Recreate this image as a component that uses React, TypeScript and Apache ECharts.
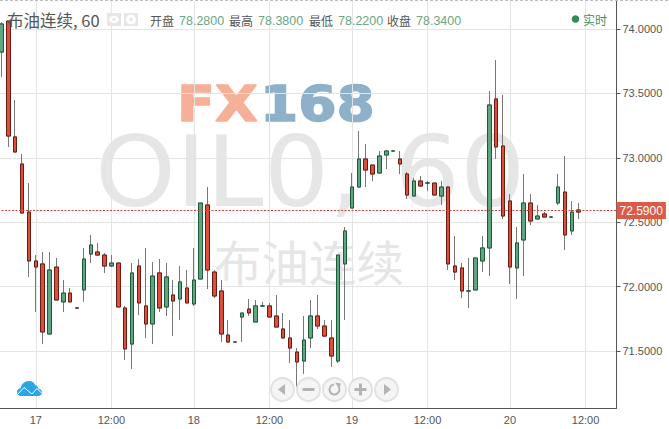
import React, { useEffect, useRef } from "react";
import * as echarts from "echarts";

const opens = [73.821,74.062,73.162,72.952,72.579,72.199,72.176,71.632,72.152,71.881,71.950,71.834,71.974,72.253,72.269,72.245,72.160,72.183,71.834,71.554,72.160,71.850,71.710,72.106,71.842,71.935,71.904,71.989,71.865,72.059,72.634,72.113,71.966,71.624,71.570,71.764,71.826,71.725,71.850,71.850,71.772,71.671,71.601,71.492,71.422,71.601,71.772,71.694,71.601,71.422,72.176,72.610,72.773,72.991,72.944,72.882,73.022,73.053,72.991,72.874,72.703,72.820,72.804,72.804,72.703,72.773,72.160,72.145,71.966,71.974,72.199,72.300,73.457,73.092,72.665,72.145,72.362,72.649,72.525,72.564,72.540,72.649,72.734,72.432,72.595];
const closes = [74.039,73.169,73.045,72.571,72.199,72.152,71.648,72.129,71.896,71.950,71.881,71.834,72.214,72.323,72.245,72.160,72.183,71.842,71.516,72.106,71.873,71.710,72.082,71.834,72.075,71.888,72.036,71.873,72.051,72.649,72.129,71.927,71.632,71.570,71.570,71.795,71.795,71.850,71.850,71.764,71.686,71.601,71.523,71.415,71.585,71.772,71.694,71.616,71.461,72.245,72.432,72.773,72.991,72.905,72.874,73.014,73.053,73.053,72.952,72.711,72.820,72.781,72.804,72.711,72.773,72.176,72.113,71.966,71.966,72.222,72.300,73.410,73.084,72.548,72.152,72.339,72.649,72.509,72.548,72.540,72.540,72.773,72.401,72.579,72.579];
const lows = [73.627,73.084,73.045,72.571,72.075,71.803,71.554,71.632,71.896,71.803,71.881,71.834,71.881,72.183,72.245,72.106,72.152,71.842,71.430,71.360,71.780,71.601,71.554,71.803,71.772,71.616,71.741,71.873,71.850,72.059,71.981,71.912,71.570,71.562,71.570,71.570,71.772,71.725,71.850,71.764,71.686,71.601,71.407,71.220,71.322,71.523,71.671,71.609,71.376,71.407,71.741,72.610,72.773,72.773,72.820,72.874,72.913,73.053,72.874,72.680,72.703,72.773,72.742,72.711,72.634,72.129,72.051,71.912,71.834,71.974,72.113,72.082,72.991,72.525,72.020,71.904,72.082,72.478,72.525,72.540,72.540,72.634,72.284,72.401,72.525];
const highs = [74.054,74.062,73.449,73.030,72.804,72.245,72.269,72.269,72.222,72.051,71.989,71.834,72.300,72.401,72.339,72.261,72.245,72.183,71.850,72.183,72.214,72.300,72.191,72.214,72.183,72.051,72.160,72.129,72.300,72.649,72.773,72.129,72.051,71.741,71.570,71.795,71.904,71.896,71.881,71.873,71.935,71.795,71.741,71.523,71.772,71.896,71.935,71.741,71.741,72.245,72.463,72.882,73.208,73.107,72.944,73.053,73.061,73.053,73.053,72.890,72.843,72.859,72.820,72.804,72.820,72.773,72.393,72.183,72.222,72.222,72.393,73.519,73.759,73.488,72.719,72.463,72.874,72.719,72.634,72.579,72.540,72.874,73.014,72.665,72.649];

const barCount = 90;
const timeTickIndexes = [5, 16, 28, 39, 51, 62, 74, 85];
const timeTickLabels = ["17", "12:00", "18", "12:00", "19", "12:00", "20", "12:00"];
const priceTicks = [71.5, 72, 72.5, 73, 73.5, 74];
const lastPrice = 72.59;
const categories = Array.from({ length: barCount }, (_, i) => {
  const at = timeTickIndexes.indexOf(i);
  return at >= 0 ? timeTickLabels[at] : "";
});

const headerItems = [
  ["开盘", "78.2800"],
  ["最高", "78.3800"],
  ["最低", "78.2200"],
  ["收盘", "78.3400"],
];

const RED = "#d9503f";
const RED_EDGE = "#6e1b14";
const GREEN = "#5fa57f";
const GREEN_EDGE = "#1c5a3a";
const WICK = "#777777";
const CJK = '"Noto Sans CJK SC", sans-serif';
const LATIN = '"Liberation Sans", Arial, sans-serif';

echarts.graphic.registerShape(
  "cloudLogo",
  echarts.graphic.extendPath(
    "M4 15.5 C1.5 15.5 0 13.8 0 11.5 C0 9.3 1.7 7.9 3.6 7.8 C4.6 3.4 7.8 0.5 12 0.5 C15.2 0.5 17.5 2.2 18.6 5.2 C19 5.1 19.4 5 19.8 5.4 C21 6.2 21.4 7.2 21.4 8.2 C23.6 8.4 25 9.8 25 11.8 C25 14 23.4 15.5 21.2 15.5 Z",
    {}
  ) as any
);

function text(x: number, y: number, t: string, font: string, size: number, fill: string, extra: any = {}) {
  return {
    type: "text",
    x,
    y,
    silent: true,
    z: extra.z ?? 10,
    scaleX: extra.scaleX ?? 1,
    style: {
      text: t,
      fontFamily: font,
      fontSize: size,
      fill,
      textVerticalAlign: "middle",
      fontWeight: extra.weight ?? "normal",
      stroke: extra.stroke,
      lineWidth: extra.stroke ? 1.5 : 0,
    },
  };
}

function buildGraphics() {
  const g: any[] = [];
  // top dashed edge
  g.push({ type: "line", silent: true, z: 10, shape: { x1: 0, y1: 0.5, x2: 669, y2: 0.5 }, style: { stroke: "#bdbdbd", lineWidth: 1, lineDash: [3, 2] } });
  // watermarks
  g.push(text(95, 172, "OIL0, 60", '"DejaVu Sans", sans-serif', 98, "#e6e6e6", { z: 0, scaleX: 1.05 }));
  g.push(text(214, 260, "布油连续", CJK, 47.5, "#e6e6e6", { z: 0 }));
  g.push(text(177, 103, "FX", '"DejaVu Sans", sans-serif', 50, "#f5b097", { z: 0, weight: "bold", scaleX: 1.11, stroke: "#f5b097" }));
  g.push(text(260, 103, "168", '"DejaVu Sans", sans-serif', 50, "#8fb0c9", { z: 0, weight: "bold", scaleX: 1.1, stroke: "#8fb0c9" }));
  // header
  g.push(text(7, 20, "布油连续, 60", CJK, 16.5, "#555555"));
  g.push({ type: "rect", silent: true, z: 10, shape: { x: 107, y: 13, width: 14, height: 13 }, style: { fill: "#e6e6e6" } });
  g.push({ type: "ellipse", silent: true, z: 11, shape: { cx: 114, cy: 19.5, rx: 5, ry: 3.5 }, style: { fill: "#ffffff" } });
  g.push({ type: "circle", silent: true, z: 12, shape: { cx: 114, cy: 19.5, r: 1.6 }, style: { fill: "#e6e6e6" } });
  g.push({ type: "rect", silent: true, z: 10, shape: { x: 124, y: 13, width: 14, height: 13 }, style: { fill: "#e6e6e6" } });
  g.push({ type: "ring", silent: true, z: 11, shape: { cx: 131, cy: 19.5, r: 5, r0: 1.8 }, style: { fill: "#ffffff" } });
  const labelX = [150, 229, 309, 387];
  headerItems.forEach(([name, value], i) => {
    g.push(text(labelX[i], 20.5, name, CJK, 12, "#555555"));
    g.push(text(labelX[i] + 29, 20.5, value, LATIN, 12.5, "#6ba583"));
  });
  g.push({ type: "circle", silent: true, z: 10, shape: { cx: 575.5, cy: 19, r: 3.8 }, style: { fill: "#2e8b57" } });
  g.push(text(583, 19, "实时", CJK, 12, "#3f8f63"));
  // cloud logo
  g.push({ type: "cloudLogo", silent: true, z: 10, x: 17, y: 380.5, style: { fill: "#2ba5e8" } });
  g.push({ type: "polyline", silent: true, z: 11, shape: { points: [[18, 394], [24, 387.5], [32, 394], [37, 388.5], [41.5, 393]] }, style: { stroke: "#ffffff", lineWidth: 1, fill: "none" } });
  // navigation buttons
  [282.5, 308.5, 334.5, 360.5, 386.5].forEach((cx) => {
    g.push({ type: "circle", silent: true, z: 12, shape: { cx, cy: 389.5, r: 11.5 }, style: { fill: "#f5f5f5", stroke: "#e2e2e2", lineWidth: 2 } });
  });
  const glyph = "#b4b4b4";
  const cy = 389.5;
  g.push({ type: "polygon", silent: true, z: 13, shape: { points: [[278, cy], [285, cy - 5.5], [285, cy + 5.5]] }, style: { fill: glyph } });
  g.push({ type: "rect", silent: true, z: 13, shape: { x: 302.5, y: cy - 1.5, width: 12, height: 3 }, style: { fill: glyph } });
  g.push({ type: "arc", silent: true, z: 13, shape: { cx: 334.5, cy, r: 5, startAngle: -0.6, endAngle: 4.6, clockwise: true }, style: { stroke: glyph, lineWidth: 2, fill: "none" } });
  g.push({ type: "polygon", silent: true, z: 13, shape: { points: [[335, cy - 7], [341, cy - 6], [339, cy - 1]] }, style: { fill: glyph } });
  g.push({ type: "rect", silent: true, z: 13, shape: { x: 354.5, y: cy - 1.5, width: 12, height: 3 }, style: { fill: glyph } });
  g.push({ type: "rect", silent: true, z: 13, shape: { x: 359, y: cy - 6, width: 3, height: 12 }, style: { fill: glyph } });
  g.push({ type: "polygon", silent: true, z: 13, shape: { points: [[391, cy], [384, cy - 5.5], [384, cy + 5.5]] }, style: { fill: glyph } });
  return g;
}

export default function App() {
  const ref = useRef<HTMLDivElement>(null);
  useEffect(() => {
    const chart = echarts.init(ref.current!, null, { renderer: "svg" });
    const ohlc = opens.map((o, i) => [o, closes[i], lows[i], highs[i]]);
    const bodies = opens.map((o, i) => [o, closes[i], Math.min(o, closes[i]), Math.max(o, closes[i])]);
    const shown = (_: number, value: string) => value !== "";
    chart.setOption({
      animation: false,
      backgroundColor: "#ffffff",
      grid: { left: 0, top: 1, width: 618.5, height: 407, containLabel: false },
      xAxis: {
        type: "category",
        data: categories,
        boundaryGap: true,
        axisLine: { lineStyle: { color: "#555555", width: 1 } },
        axisTick: { alignWithLabel: true, interval: shown, length: 4, lineStyle: { color: "#555555" } },
        axisLabel: { interval: shown, color: "#555555", fontSize: 11, fontFamily: LATIN, margin: 6 },
        splitLine: { show: true, alignWithLabel: true, interval: shown, lineStyle: { color: "#e4e4e4", width: 1 } },
      },
      yAxis: {
        type: "value",
        position: "right",
        min: 71.0575,
        max: 74.2174,
        scale: true,
        axisLine: { show: true, lineStyle: { color: "#555555", width: 1 } },
        axisTick: { show: true, customValues: priceTicks, length: 4, lineStyle: { color: "#555555" } },
        axisLabel: { customValues: priceTicks, color: "#555555", fontSize: 11, fontFamily: LATIN, margin: 6, formatter: (v: number) => v.toFixed(4) },
        splitLine: { show: true, lineStyle: { color: "#e4e4e4", width: 1 } },
      },
      series: [
        {
          type: "candlestick",
          data: ohlc,
          barWidth: 4,
          z: 2,
          itemStyle: { color: WICK, color0: WICK, borderColor: WICK, borderColor0: WICK, borderWidth: 1 },
        },
        {
          type: "candlestick",
          data: bodies,
          barWidth: 4,
          z: 3,
          itemStyle: { color: GREEN, color0: RED, borderColor: GREEN_EDGE, borderColor0: RED_EDGE, borderWidth: 1 },
          markLine: {
            silent: true,
            symbol: "none",
            animation: false,
            lineStyle: { color: "#c9483a", type: [2, 1.5], width: 1 },
            label: {
              position: "end",
              distance: 0,
              formatter: () => lastPrice.toFixed(4),
              color: "#ffffff",
              backgroundColor: "#dc5a48",
              fontSize: 12,
              fontFamily: LATIN,
              padding: [2, 3, 3, 3],
            },
            data: [{ yAxis: lastPrice }],
          },
        },
      ],
      graphic: { elements: [{ type: "group", x: 2, y: 0, children: buildGraphics() }] },
    });
    return () => chart.dispose();
  }, []);
  return <div ref={ref} style={{ position: "fixed", left: -2, top: 0, width: 671, height: 429 }} />;
}
